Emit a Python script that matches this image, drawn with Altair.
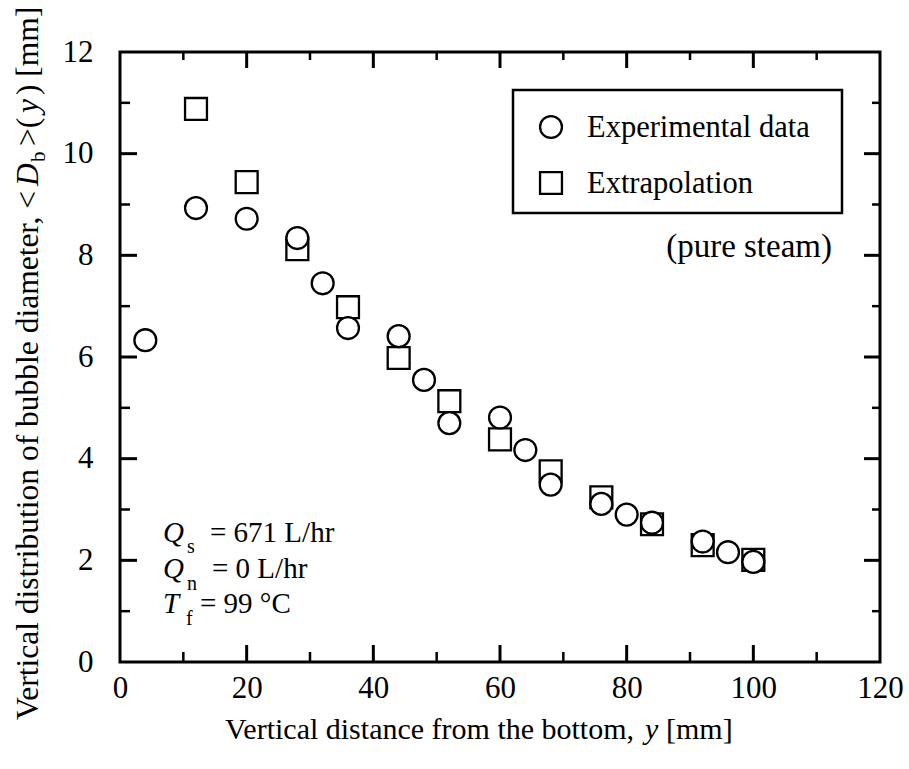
import altair as alt
import pandas as pd

# ---------------- data ----------------
exp_y = [4, 12, 20, 28, 32, 36, 44, 48, 52, 60, 64, 68, 76, 80, 84, 92, 96, 100]
exp_d = [6.33, 8.93, 8.72, 8.34, 7.45, 6.57, 6.41, 5.55, 4.70, 4.81, 4.17, 3.49,
         3.11, 2.90, 2.74, 2.37, 2.16, 1.97]
ext_y = [12, 20, 28, 36, 44, 52, 60, 68, 76, 84, 92, 100]
ext_d = [10.88, 9.44, 8.12, 6.98, 5.98, 5.13, 4.38, 3.75, 3.24, 2.71, 2.30, 2.01]
series_names = ["Experimental data", "Extrapolation"]
series_shapes = ["circle", "square"]

x_labels = [0, 20, 40, 60, 80, 100, 120]
y_labels = [0, 2, 4, 6, 8, 10, 12]
x_ticks_major = [20, 40, 60, 80, 100]
x_ticks_minor = [10, 30, 50, 70, 90, 110]
y_ticks_major = [2, 4, 6, 8, 10]
y_ticks_minor = [1, 3, 5, 7, 9, 11]

# ---------------- layout ----------------
W, H = 760, 610
FONT = "Liberation Serif"

df = pd.concat([
    pd.DataFrame({"y": ext_y, "d": ext_d, "series": series_names[1]}),
    pd.DataFrame({"y": exp_y, "d": exp_d, "series": series_names[0]}),
], ignore_index=True)

xscale = alt.Scale(domain=[0, 120], nice=False, zero=False)
yscale = alt.Scale(domain=[0, 12], nice=False, zero=False)

x_axis = alt.Axis(
    values=x_labels, labelFont=FONT, labelFontSize=31, labelColor="black",
    ticks=False, tickSize=0, domain=False, grid=False, title=None,
    labelPadding=11, labelFlush=False, labelOverlap=False)
y_axis = alt.Axis(
    values=y_labels, labelFont=FONT, labelFontSize=31, labelColor="black",
    ticks=False, tickSize=0, domain=False, grid=False, title=None,
    labelPadding=27, labelFlush=False, labelOverlap=False)

points = alt.Chart(df).mark_point(
    filled=True, fill="white", fillOpacity=1, stroke="black", strokeWidth=2.3,
    size=480, opacity=1
).encode(
    x=alt.X("y:Q", scale=xscale, axis=x_axis),
    y=alt.Y("d:Q", scale=yscale, axis=y_axis),
    shape=alt.Shape("series:N", scale=alt.Scale(domain=series_names, range=series_shapes),
                    legend=None),
)


def xticks(vals, length, sw, top=False):
    enc = dict(x=alt.X("v:Q", scale=xscale, axis=x_axis))
    if top:
        enc.update(y=alt.value(0), y2=alt.value(length))
    else:
        enc.update(y=alt.value(H), y2=alt.value(H - length))
    return alt.Chart(pd.DataFrame({"v": vals})).mark_rule(
        color="black", strokeWidth=sw).encode(**enc)


def yticks(vals, length, sw, right=False):
    enc = dict(y=alt.Y("v:Q", scale=yscale, axis=y_axis))
    if right:
        enc.update(x=alt.value(W), x2=alt.value(W - length))
    else:
        enc.update(x=alt.value(0), x2=alt.value(length))
    return alt.Chart(pd.DataFrame({"v": vals})).mark_rule(
        color="black", strokeWidth=sw).encode(**enc)


ticks = [
    xticks(x_ticks_major, 17, 3), xticks(x_ticks_minor, 10, 2.5),
    xticks(x_ticks_major, 16, 3, top=True), xticks(x_ticks_minor, 8, 2.5, top=True),
    yticks(y_ticks_major, 17, 3), yticks(y_ticks_minor, 10, 2.5),
    yticks(y_ticks_major, 16, 3, right=True), yticks(y_ticks_minor, 8, 2.5, right=True),
]


def txt(s, x, y, size, italic=False, angle=0, align="left"):
    return alt.Chart(alt.Data(values=[{}])).mark_text(
        text=s, font=FONT, fontSize=size, fontStyle="italic" if italic else "normal",
        align=align, baseline="alphabetic", angle=angle, color="black"
    ).encode(x=alt.value(x), y=alt.value(y))


# x-axis title
xtitle = [
    txt("Vertical distance from the bottom,", 105, 687, 30),
    txt("y", 525, 687, 30, italic=True),
    txt("[mm]", 546, 687, 30),
]

# y-axis title (rotated pieces)
YB = -82
ytitle = [
    txt("Vertical distribution of bubble diameter, <", YB, 668, 31.5, angle=270),
    txt("D", YB, 134, 31.5, italic=True, angle=270),
    txt("b", YB + 7, 110, 21, angle=270),
    txt(">(", YB, 94, 31.5, angle=270),
    txt("y", YB, 61, 31.5, italic=True, angle=270),
    txt(") [mm]", YB, 43, 31.5, angle=270),
]

# legend box
legend_box = alt.Chart(alt.Data(values=[{}])).mark_rect(
    fill="white", stroke="black", strokeWidth=2.5
).encode(x=alt.value(393), x2=alt.value(722), y=alt.value(38), y2=alt.value(161))
legend_syms = [
    alt.Chart(alt.Data(values=[{}])).mark_point(
        shape=series_shapes[0], filled=True, fill="white", stroke="black",
        strokeWidth=2.3, size=480, opacity=1).encode(x=alt.value(431), y=alt.value(75)),
    alt.Chart(alt.Data(values=[{}])).mark_point(
        shape=series_shapes[1], filled=True, fill="white", stroke="black",
        strokeWidth=2.3, size=480, opacity=1).encode(x=alt.value(431), y=alt.value(131)),
]
legend_txt = [
    txt(series_names[0], 467, 85, 30.5),
    txt(series_names[1], 467, 141, 30.5),
]

notes = [
    txt("(pure steam)", 712, 205, 33, align="right"),
    txt("Q", 43, 490, 29, italic=True), txt("s", 67, 501, 20), txt("= 671 L/hr", 90, 490, 29),
    txt("Q", 43, 526, 29, italic=True), txt("n", 67, 538, 20), txt("= 0 L/hr", 92, 526, 29),
    txt("T", 43, 561, 29, italic=True), txt("f", 66, 573, 20), txt("= 99 °C", 80, 561, 29),
]

chart = alt.layer(
    points, *ticks, legend_box, *legend_syms, *legend_txt, *notes, *xtitle, *ytitle
).properties(
    width=W, height=H,
    autosize=alt.AutoSizeParams(type="none"),
    padding={"left": 120, "top": 52, "right": 29, "bottom": 107},
    background="white",
).configure_view(stroke="black", strokeWidth=3)

chart.save("out.html", embed_options={"renderer": "svg", "actions": False})
